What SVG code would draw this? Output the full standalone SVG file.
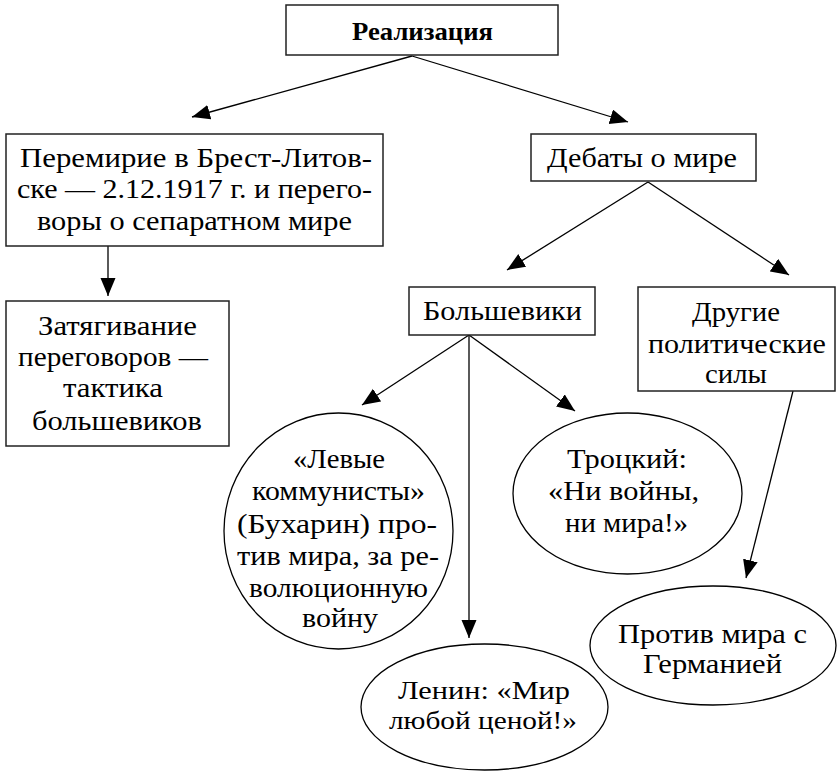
<svg xmlns="http://www.w3.org/2000/svg" width="838" height="772" viewBox="0 0 838 772">
<defs>
<style>
.box{fill:#fff;stroke:#222;stroke-width:1.5}
.ell{fill:#fff;stroke:#000;stroke-width:1.3}
.t{font-family:"Liberation Serif","Times New Roman","DejaVu Serif",serif;font-size:27px;fill:#000;text-anchor:middle}
.b{font-weight:bold;font-size:25px}
.s{font-size:26px}
.c line{stroke:#000;stroke-width:1.3;marker-end:url(#ah)}
</style>
<marker id="ah" markerUnits="userSpaceOnUse" markerWidth="20" markerHeight="16" refX="18" refY="7.5" orient="auto">
<path d="M0,0 L18,7.5 L0,15 Z" fill="#000"/>
</marker>
</defs>
<rect width="838" height="772" fill="#fff"/>
<g id="connectors" class="c">
<line x1="412" y1="56" x2="192" y2="117"/>
<line x1="412" y1="56" x2="628" y2="122"/>
<line x1="108" y1="246" x2="108" y2="296"/>
<line x1="648" y1="182" x2="507" y2="270"/>
<line x1="648" y1="182" x2="789" y2="275"/>
<line x1="469" y1="335" x2="362" y2="405"/>
<line x1="469" y1="335" x2="469" y2="638"/>
<line x1="469" y1="335" x2="575" y2="411"/>
<line x1="793" y1="391" x2="746" y2="578"/>
</g>
<g id="realizatsiya">
<rect class="box" x="286" y="5" width="272" height="50"/>
<text class="t b" x="422.5" y="40" textLength="141" lengthAdjust="spacingAndGlyphs">Реализация</text>
</g>
<g id="peremirie">
<rect class="box" x="6" y="134" width="377" height="112"/>
<text class="t" x="196" y="167" textLength="352" lengthAdjust="spacingAndGlyphs">Перемирие в Брест-Литов-</text>
<text class="t" x="194.5" y="198" textLength="355" lengthAdjust="spacingAndGlyphs">ске — 2.12.1917 г. и перего-</text>
<text class="t" x="194.5" y="230" textLength="315" lengthAdjust="spacingAndGlyphs">воры о сепаратном мире</text>
</g>
<g id="debaty">
<rect class="box" x="531" y="134" width="225" height="47"/>
<text class="t" x="642" y="167" textLength="190" lengthAdjust="spacingAndGlyphs">Дебаты о мире</text>
</g>
<g id="zatyagivanie">
<rect class="box" x="6" y="301" width="223" height="145"/>
<text class="t" x="117.5" y="335" textLength="159" lengthAdjust="spacingAndGlyphs">Затягивание</text>
<text class="t" x="113" y="366" textLength="190" lengthAdjust="spacingAndGlyphs">переговоров —</text>
<text class="t" x="113" y="397" textLength="100" lengthAdjust="spacingAndGlyphs">тактика</text>
<text class="t" x="117" y="430" textLength="170" lengthAdjust="spacingAndGlyphs">большевиков</text>
</g>
<g id="bolsheviki">
<rect class="box" x="409" y="287" width="186" height="48"/>
<text class="t" x="502.5" y="320" textLength="159" lengthAdjust="spacingAndGlyphs">Большевики</text>
</g>
<g id="drugie">
<rect class="box" x="638" y="287" width="197" height="104"/>
<text class="t" x="736" y="321" textLength="88" lengthAdjust="spacingAndGlyphs">Другие</text>
<text class="t" x="737" y="353" textLength="178" lengthAdjust="spacingAndGlyphs">политические</text>
<text class="t" x="736" y="383" textLength="62" lengthAdjust="spacingAndGlyphs">силы</text>
</g>
<g id="levye">
<ellipse class="ell" cx="338.5" cy="531" rx="114.5" ry="118"/>
<text class="t" x="339" y="468" textLength="92" lengthAdjust="spacingAndGlyphs">«Левые</text>
<text class="t" x="338.5" y="500" textLength="173" lengthAdjust="spacingAndGlyphs">коммунисты»</text>
<text class="t" x="337" y="533" textLength="200" lengthAdjust="spacingAndGlyphs">(Бухарин) про-</text>
<text class="t" x="338" y="565" textLength="202" lengthAdjust="spacingAndGlyphs">тив мира, за ре-</text>
<text class="t" x="338.5" y="597" textLength="179" lengthAdjust="spacingAndGlyphs">волюционную</text>
<text class="t" x="340" y="627" textLength="76" lengthAdjust="spacingAndGlyphs">войну</text>
</g>
<g id="trotsky">
<ellipse class="ell" cx="627.5" cy="493.5" rx="114.5" ry="80.5"/>
<text class="t" x="627" y="468" textLength="120" lengthAdjust="spacingAndGlyphs">Троцкий:</text>
<text class="t" x="623.5" y="500" textLength="151" lengthAdjust="spacingAndGlyphs">«Ни войны,</text>
<text class="t" x="626.5" y="532" textLength="123" lengthAdjust="spacingAndGlyphs">ни мира!»</text>
</g>
<g id="lenin">
<ellipse class="ell" cx="484.5" cy="707" rx="123.5" ry="63"/>
<text class="t s" x="484" y="699" textLength="172" lengthAdjust="spacingAndGlyphs">Ленин: «Мир</text>
<text class="t s" x="483" y="729" textLength="188" lengthAdjust="spacingAndGlyphs">любой ценой!»</text>
</g>
<g id="protiv">
<ellipse class="ell" cx="713" cy="645.5" rx="123" ry="59.5"/>
<text class="t" x="712.5" y="643" textLength="189" lengthAdjust="spacingAndGlyphs">Против мира с</text>
<text class="t" x="712.5" y="673" textLength="139" lengthAdjust="spacingAndGlyphs">Германией</text>
</g>
</svg>
